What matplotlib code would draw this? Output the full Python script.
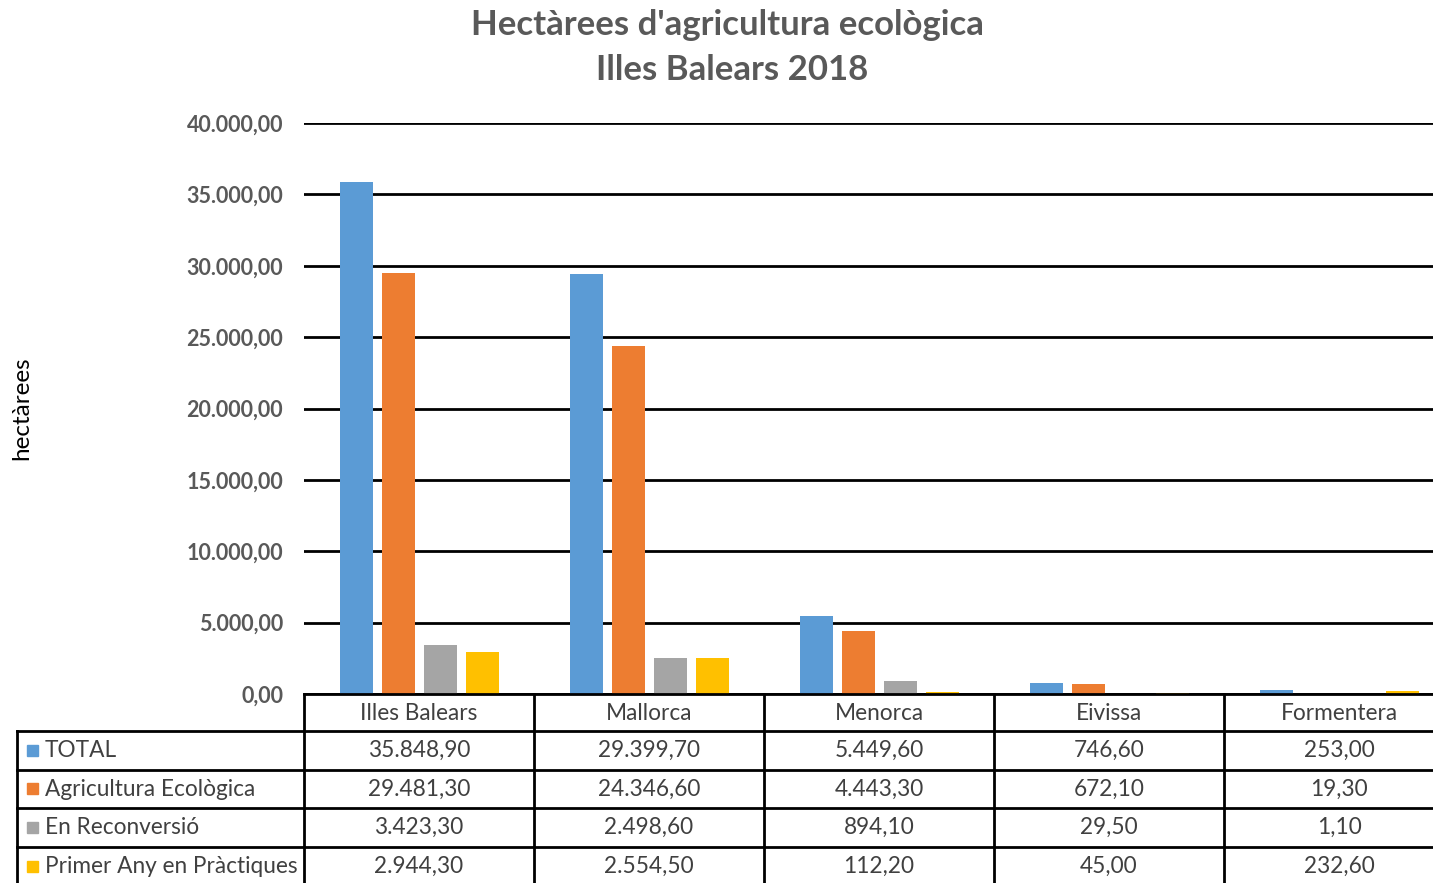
import matplotlib
matplotlib.use("Agg")
import matplotlib.pyplot as plt
from matplotlib.transforms import blended_transform_factory
from matplotlib.patches import Rectangle

# ---- data ----
categories = ["Illes Balears", "Mallorca", "Menorca", "Eivissa", "Formentera"]
series_names = ["TOTAL", "Agricultura Ecològica", "En Reconversió", "Primer Any en Pràctiques"]
total = [35848.90, 29399.70, 5449.60, 746.60, 253.00]
agricultura = [29481.30, 24346.60, 4443.30, 672.10, 19.30]
reconversio = [3423.30, 2498.60, 894.10, 29.50, 1.10]
primer_any = [2944.30, 2554.50, 112.20, 45.00, 232.60]
y_ticks = [0, 5000, 10000, 15000, 20000, 25000, 30000, 35000, 40000]

series = [total, agricultura, reconversio, primer_any]
colors = ["#5B9BD5", "#ED7D31", "#A5A5A5", "#FFC000"]

FONT = "Lato"
GRAY = "#595959"
TXT = "#404040"


def fmt(v):
    s = f"{v:,.2f}"
    return s.replace(",", "X").replace(".", ",").replace("X", ".")


W, H = 1433, 883
fig = plt.figure(figsize=(W / 100, H / 100), dpi=100)
fig.patch.set_facecolor("white")

# main plot area (right edge extends beyond the figure, as in the cropped reference)
ax = fig.add_axes([304 / W, (H - 694) / H, 1150 / W, 571 / H])
ax.set_xlim(-0.5, len(categories) - 0.5)
ax.set_ylim(0, 40000)
ax.set_yticks(y_ticks)
ax.set_yticklabels([fmt(t) for t in y_ticks], fontsize=15.5, color=GRAY,
                   family=FONT, fontweight="bold")
ax.tick_params(axis="y", length=0, pad=15)
ax.tick_params(axis="x", length=0, labelbottom=False)
for sp in ax.spines.values():
    sp.set_visible(False)
ax.yaxis.grid(True, color="black", linewidth=2)
ax.set_axisbelow(True)

step = 42 / 230
width = 33 / 230
offsets = [-1.5 * step, -0.5 * step, 0.5 * step, 1.5 * step]
for vals, off, c in zip(series, offsets, colors):
    ax.bar([i + off for i in range(len(categories))], vals, width=width,
           color=c, zorder=3)

# y-axis label
fig.text(22 / W, 1 - 408 / H, "hectàrees", rotation=90, ha="center", va="center",
         fontsize=17.5, family=FONT, color="black")

# title
fig.text(727 / W, 1 - 25 / H, "Hectàrees d'agricultura ecològica", ha="center",
         va="center", fontsize=25, family=FONT, fontweight="bold", color=GRAY)
fig.text(732 / W, 1 - 70 / H, "Illes Balears 2018", ha="center", va="center",
         fontsize=25, family=FONT, fontweight="bold", color=GRAY)

# ---- data table ----
ov = fig.add_axes([0, 0, 1, 1], facecolor="none")
ov.set_xlim(0, W)
ov.set_ylim(H, 0)
ov.axis("off")
bt = blended_transform_factory(ax.transData, ov.transData)

row_edges = [694, 731, 770, 808, 847, 886]
lw = 2
TS = 16.3
# horizontal lines
ov.plot([304, W + 10], [694, 694], color="black", lw=lw, clip_on=False)
for y in row_edges[1:]:
    ov.plot([17, W + 10], [y, y], color="black", lw=lw, clip_on=False)
# vertical lines
for i in range(len(categories)):
    ov.plot([i - 0.5, i - 0.5], [694, 886], color="black", lw=lw,
            transform=bt, clip_on=False)
ov.plot([17, 17], [731, 886], color="black", lw=lw, clip_on=False)

# header
for i, cat in enumerate(categories):
    ov.text(i, (694 + 731) / 2 + 1, cat, transform=bt, ha="center", va="center",
            fontsize=TS, family=FONT, color=TXT)

# rows
for r, (name, vals, c) in enumerate(zip(series_names, series, colors)):
    yc = (row_edges[r + 1] + row_edges[r + 2]) / 2
    ov.add_patch(Rectangle((27, yc - 6), 11, 11, color=c))
    ov.text(45, yc, name, ha="left", va="center", fontsize=TS, family=FONT,
            color=TXT)
    for i, v in enumerate(vals):
        ov.text(i, yc, fmt(v), transform=bt, ha="center", va="center",
                fontsize=TS, family=FONT, color=TXT)

fig.savefig("out.png", dpi=100)
